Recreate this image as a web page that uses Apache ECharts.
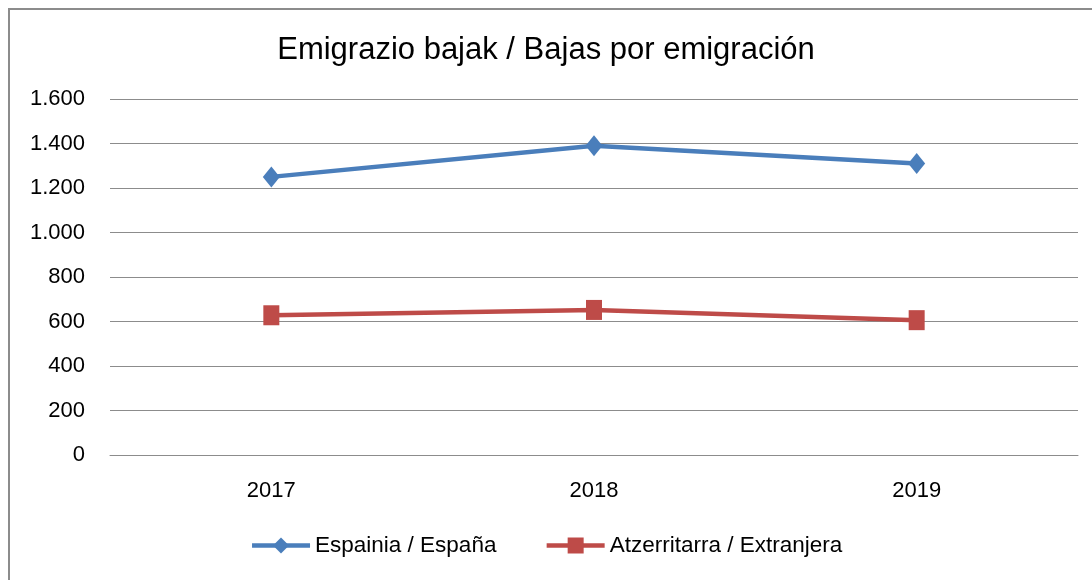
<!DOCTYPE html>
<html>
<head>
<meta charset="utf-8">
<script src="https://cdn.jsdelivr.net/npm/echarts@6/dist/echarts.min.js"></script>
<style>
  html, body { margin: 0; padding: 0; background: #fff; overflow: hidden; }
  .frame {
    position: absolute; left: 8px; top: 8px; width: 1100px; height: 600px;
    border: 2px solid #8c8c8c; box-sizing: border-box;
  }
  #main { position: absolute; left: 0; top: 0; width: 1092px; height: 580px; }
</style>
</head>
<body>
<div class="frame"></div>
<div id="main"></div>
<script>
const years = ['2017', '2018', '2019'];
const spainValues = [1250, 1390, 1310];
const foreignValues = [628, 652, 606];
const seriesNames = ['Espainia / España', 'Atzerritarra / Extranjera'];

const fmt = v => String(v).replace(/\B(?=(\d{3})+(?!\d))/g, '.');
const font = 'Liberation Sans';

const chart = echarts.init(document.getElementById('main'));
chart.setOption({
  animation: false,
  title: {
    text: 'Emigrazio bajak / Bajas por emigración',
    left: 'center',
    top: 30,
    textStyle: { fontFamily: font, fontSize: 31, fontWeight: 'normal', color: '#000' }
  },
  legend: {
    bottom: 18,
    left: 'center',
    itemWidth: 58,
    itemHeight: 20,
    itemGap: 48,
    lineStyle: { width: 4.5 },
    textStyle: { fontFamily: font, fontSize: 22.5, color: '#000' },
    data: seriesNames
  },
  grid: { left: 110, right: 14, top: 99, bottom: 125 },
  xAxis: {
    type: 'category',
    data: years,
    boundaryGap: true,
    axisLine: { lineStyle: { color: '#8c8c8c', width: 1 } },
    axisTick: { show: false },
    axisLabel: { fontFamily: font, fontSize: 22, color: '#000', margin: 25 }
  },
  yAxis: {
    type: 'value',
    min: 0,
    max: 1600,
    interval: 200,
    axisLine: { show: false },
    axisTick: { show: false },
    splitLine: { lineStyle: { color: '#8c8c8c', width: 1 } },
    axisLabel: { fontFamily: font, fontSize: 22, color: '#000', margin: 25, formatter: fmt }
  },
  series: [
    {
      name: seriesNames[0],
      type: 'line',
      data: spainValues,
      symbol: 'diamond',
      symbolSize: [17, 21],
      lineStyle: { color: '#4a7ebb', width: 4.5 },
      itemStyle: { color: '#4a7ebb' }
    },
    {
      name: seriesNames[1],
      type: 'line',
      data: foreignValues,
      symbol: 'rect',
      symbolSize: [16, 20],
      lineStyle: { color: '#be4b48', width: 4.5 },
      itemStyle: { color: '#be4b48' }
    }
  ]
});
</script>
</body>
</html>
